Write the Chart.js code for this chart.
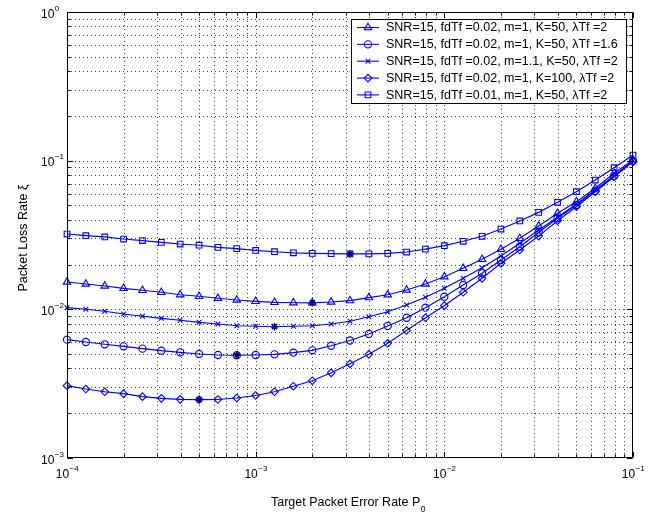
<!DOCTYPE html>
<html><head><meta charset="utf-8">
<script src="https://cdn.jsdelivr.net/npm/chart.js@4/dist/chart.umd.min.js"></script>
<style>html,body{margin:0;padding:0;background:#fff;}#wrap{width:661px;height:514px;}</style>
</head><body><div id="wrap"><canvas id="c" width="661" height="514"></canvas></div>
<script>
// Target packet error rate P0 (x values)
const xValues = [
  1.000e-4, 1.259e-4, 1.585e-4, 1.995e-4, 2.512e-4, 3.162e-4, 3.981e-4, 5.012e-4, 6.310e-4, 7.943e-4,
  1.000e-3, 1.259e-3, 1.585e-3, 1.995e-3, 2.512e-3, 3.162e-3, 3.981e-3, 5.012e-3, 6.310e-3, 7.943e-3,
  1.000e-2, 1.259e-2, 1.585e-2, 1.995e-2, 2.512e-2, 3.162e-2, 3.981e-2, 5.012e-2, 6.310e-2, 7.943e-2,
  1.000e-1];
const seriesLabels = [
  'SNR=15, fdTf =0.02, m=1, K=50, \u03bbTf =2',
  'SNR=15, fdTf =0.02, m=1, K=50, \u03bbTf =1.6',
  'SNR=15, fdTf =0.02, m=1.1, K=50, \u03bbTf =2',
  'SNR=15, fdTf =0.02, m=1, K=100, \u03bbTf =2',
  'SNR=15, fdTf =0.01, m=1, K=50, \u03bbTf =2'];
const lossTriangle = [
  0.01527, 0.0148, 0.01436, 0.01385, 0.01343, 0.01302, 0.01254, 0.01224, 0.01187, 0.01156,
  0.01132, 0.01115, 0.01108, 0.01106, 0.0112, 0.01145, 0.01198, 0.01254, 0.0135, 0.0148,
  0.01658, 0.01888, 0.02171, 0.02534, 0.03004, 0.03635, 0.04426, 0.05297, 0.06518, 0.0822, 0.101];
const lossCircle = [
  0.00625, 0.00603, 0.00582, 0.00564, 0.00544, 0.00527, 0.00514, 0.00501, 0.00493, 0.00491,
  0.00493, 0.00498, 0.00511, 0.0053, 0.00569, 0.00617, 0.00683, 0.00773, 0.00878, 0.01026,
  0.01216, 0.01458, 0.01748, 0.02147, 0.02637, 0.033, 0.041, 0.0503, 0.0625, 0.0788, 0.0995];
const lossCross = [
  0.01026, 0.01001, 0.0097, 0.0093, 0.00898, 0.0087, 0.00844, 0.00818, 0.00797, 0.00776,
  0.00769, 0.00764, 0.00769, 0.00776, 0.00797, 0.00831, 0.00892, 0.00964, 0.0107, 0.01205,
  0.01385, 0.01617, 0.01906, 0.02284, 0.0278, 0.0342, 0.0416, 0.0511, 0.0635, 0.0792, 0.0999];
const lossDiamond = [
  0.003065, 0.00291, 0.00279, 0.00271, 0.002585, 0.00252, 0.00248, 0.00247, 0.002475, 0.002533,
  0.002633, 0.00279, 0.00304, 0.00331, 0.00374, 0.0043, 0.00498, 0.00591, 0.0072, 0.00878,
  0.01058, 0.01302, 0.01617, 0.0204, 0.02506, 0.0311, 0.03947, 0.049, 0.0618, 0.078, 0.0984];
const lossSquare = [
  0.0321, 0.0313, 0.0307, 0.0297, 0.0290, 0.0282, 0.0275, 0.0270, 0.0261, 0.0256,
  0.0249, 0.0244, 0.0240, 0.0238, 0.0237, 0.0236, 0.0236, 0.0238, 0.0243, 0.0254,
  0.0268, 0.0287, 0.0310, 0.0347, 0.0393, 0.0449, 0.0525, 0.0618, 0.0741, 0.0897, 0.109];
// minima markers (black asterisks)
const minX = [3.162e-3, 1.995e-3, 1.259e-3, 7.943e-4, 5.012e-4];
const minY = [0.0236, 0.01106, 0.00764, 0.00491, 0.00247];
// tick labels
const xTickValues = [1e-4, 1e-3, 1e-2, 1e-1];
const xTickExponents = ['\u22124', '\u22123', '\u22122', '\u22121'];
const yTickValues = [1e-3, 1e-2, 1e-1, 1];
const yTickExponents = ['\u22123', '\u22122', '\u22121', '0'];
const minorMultipliers = [2, 3, 4, 5, 6, 7, 8, 9];
const xTitle = 'Target Packet Error Rate P';
const xTitleSub = '0';
const yTitle = 'Packet Loss Rate \u03be';

const BLUE = '#0000ff';
const FONT = "'Liberation Sans', Arial, Helvetica, sans-serif";
const TEXT_SIZE = '12.5px ';
const styles = [
  {pointStyle: 'triangle', radius: 4.3},
  {pointStyle: 'circle', radius: 3.6},
  {pointStyle: 'crossRot', radius: 3.3},
  {pointStyle: 'rectRot', radius: 3.8},
  {pointStyle: 'rect', radius: 4.0}];
const seriesValues = [lossTriangle, lossCircle, lossCross, lossDiamond, lossSquare];

const datasets = seriesValues.map((vals, i) => ({
  label: seriesLabels[i],
  data: xValues.map((x, j) => ({x: x, y: vals[j]})),
  borderColor: BLUE, backgroundColor: 'rgba(0,0,0,0)',
  borderWidth: 1.15, pointBorderWidth: 1.1, pointBorderColor: BLUE,
  pointBackgroundColor: 'rgba(0,0,0,0)',
  pointStyle: styles[i].pointStyle, pointRadius: styles[i].radius,
  tension: 0, clip: false
}));
datasets.push({
  label: 'minima',
  data: minX.map((x, j) => ({x: x, y: minY[j]})),
  showLine: false, pointStyle: 'star', pointRadius: 3.7,
  pointBorderColor: '#000', pointBackgroundColor: '#000', pointBorderWidth: 1.4, clip: false
});

function decadeGrid(lo, hi) {
  const out = [];
  for (let e = lo; e < hi; e++) {
    out.push(Math.pow(10, e));
    minorMultipliers.forEach(m => out.push(m * Math.pow(10, e)));
  }
  out.push(Math.pow(10, hi));
  return out;
}

function drawPow(ctx, x, baseline, exp, align) {
  ctx.font = '12px ' + FONT;
  const w1 = ctx.measureText('10').width;
  ctx.font = '8px ' + FONT;
  const w2 = ctx.measureText(exp).width;
  let start = x;
  if (align === 'center') start = x - (w1 + w2) / 2;
  ctx.textAlign = 'left';
  ctx.textBaseline = 'alphabetic';
  ctx.font = '12px ' + FONT;
  ctx.fillText('10', start, baseline);
  ctx.font = '8px ' + FONT;
  ctx.fillText(exp, start + w1 + 0.5, baseline - 7);
}

const matlabAxes = {
  id: 'matlabAxes',
  beforeDatasetsDraw(chart) {
    const {ctx, chartArea: a, scales: {x, y}} = chart;
    ctx.save();
    ctx.strokeStyle = 'rgba(0,0,0,0.75)';
    ctx.lineWidth = 1;
    ctx.setLineDash([1, 3]);
    decadeGrid(-4, -1).forEach(v => {
      const px = Math.round(x.getPixelForValue(v)) + 0.5;
      if (px <= a.left + 1 || px >= a.right - 1) return;
      ctx.beginPath(); ctx.moveTo(px, a.bottom); ctx.lineTo(px, a.top); ctx.stroke();
    });
    decadeGrid(-3, 0).forEach(v => {
      const py = Math.round(y.getPixelForValue(v)) + 0.5;
      if (py <= a.top + 1 || py >= a.bottom - 1) return;
      ctx.beginPath(); ctx.moveTo(a.left, py); ctx.lineTo(a.right, py); ctx.stroke();
    });
    ctx.restore();
  },
  afterDraw(chart) {
    const {ctx, chartArea: a, scales: {x, y}} = chart;
    ctx.save();
    // box
    ctx.strokeStyle = '#000'; ctx.lineWidth = 1; ctx.setLineDash([]);
    const L = Math.round(a.left) + 0.5, R = Math.round(a.right) - 0.5;
    const T = Math.round(a.top) + 0.5, B = Math.round(a.bottom) - 0.5;
    ctx.strokeRect(L, T, R - L, B - T);
    // ticks
    const xMajor = new Set(xTickValues);
    decadeGrid(-4, -1).forEach(v => {
      const px = Math.round(x.getPixelForValue(v)) + 0.5;
      const len = xMajor.has(v) ? 5.6 : 3;
      ctx.beginPath();
      ctx.moveTo(px, B); ctx.lineTo(px, B - len);
      ctx.moveTo(px, T); ctx.lineTo(px, T + len);
      ctx.stroke();
    });
    const yMajor = new Set(yTickValues);
    decadeGrid(-3, 0).forEach(v => {
      const py = Math.round(y.getPixelForValue(v)) + 0.5;
      const len = yMajor.has(v) ? 5.6 : 3;
      ctx.beginPath();
      ctx.moveTo(L, py); ctx.lineTo(L + len, py);
      ctx.moveTo(R, py); ctx.lineTo(R - len, py);
      ctx.stroke();
    });
    // tick labels
    ctx.fillStyle = '#000';
    xTickValues.forEach((v, i) => {
      drawPow(ctx, x.getPixelForValue(v), 478, xTickExponents[i], 'center');
    });
    yTickValues.forEach((v, i) => {
      drawPow(ctx, 41, y.getPixelForValue(v) + 5.8, yTickExponents[i], 'left');
    });
    // x title
    ctx.font = TEXT_SIZE + FONT;
    const tw = ctx.measureText(xTitle).width;
    ctx.font = '8.5px ' + FONT;
    const sw = ctx.measureText(xTitleSub).width;
    const cx = (a.left + a.right) / 2 - 2;
    const sx = cx - (tw + sw) / 2;
    ctx.textAlign = 'left'; ctx.textBaseline = 'alphabetic';
    ctx.font = TEXT_SIZE + FONT;
    ctx.fillText(xTitle, sx, 505.5);
    ctx.font = '8.5px ' + FONT;
    ctx.fillText(xTitleSub, sx + tw + 0.5, 511.5);
    // y title
    ctx.save();
    ctx.translate(27, 238);
    ctx.rotate(-Math.PI / 2);
    ctx.font = TEXT_SIZE + FONT;
    ctx.textAlign = 'center';
    ctx.fillText(yTitle, 0, 0);
    ctx.restore();
    // legend
    const lx = 351.5, ly = 19.5, lw = 275, lh = 84;
    ctx.fillStyle = '#fff';
    ctx.fillRect(lx, ly, lw, lh);
    ctx.strokeStyle = '#000'; ctx.lineWidth = 1;
    ctx.strokeRect(lx, ly, lw, lh);
    seriesLabels.forEach((lab, i) => {
      const ry = 27.5 + i * 16.85;
      ctx.strokeStyle = BLUE; ctx.lineWidth = 1.1;
      ctx.beginPath(); ctx.moveTo(357, ry); ctx.lineTo(379, ry); ctx.stroke();
      ctx.fillStyle = 'rgba(0,0,0,0)';
      Chart.helpers.drawPoint(ctx, {pointStyle: styles[i].pointStyle, radius: styles[i].radius, rotation: 0, borderWidth: 1.1}, 368, ry);
      ctx.fillStyle = '#000';
      ctx.font = TEXT_SIZE + FONT;
      ctx.textAlign = 'left'; ctx.textBaseline = 'middle';
      ctx.fillText(lab, 386, ry + 0.5);
    });
    ctx.restore();
  }
};

new Chart(document.getElementById('c'), {
  type: 'line',
  data: {datasets: datasets},
  options: {
    responsive: false, animation: false, devicePixelRatio: 1,
    layout: {padding: {left: 67, right: 28, top: 12, bottom: 56}},
    plugins: {legend: {display: false}, tooltip: {enabled: false}},
    scales: {
      x: {type: 'logarithmic', min: 1e-4, max: 1e-1, display: false},
      y: {type: 'logarithmic', min: 1e-3, max: 1, display: false}
    }
  },
  plugins: [matlabAxes]
});
</script>
</body></html>
